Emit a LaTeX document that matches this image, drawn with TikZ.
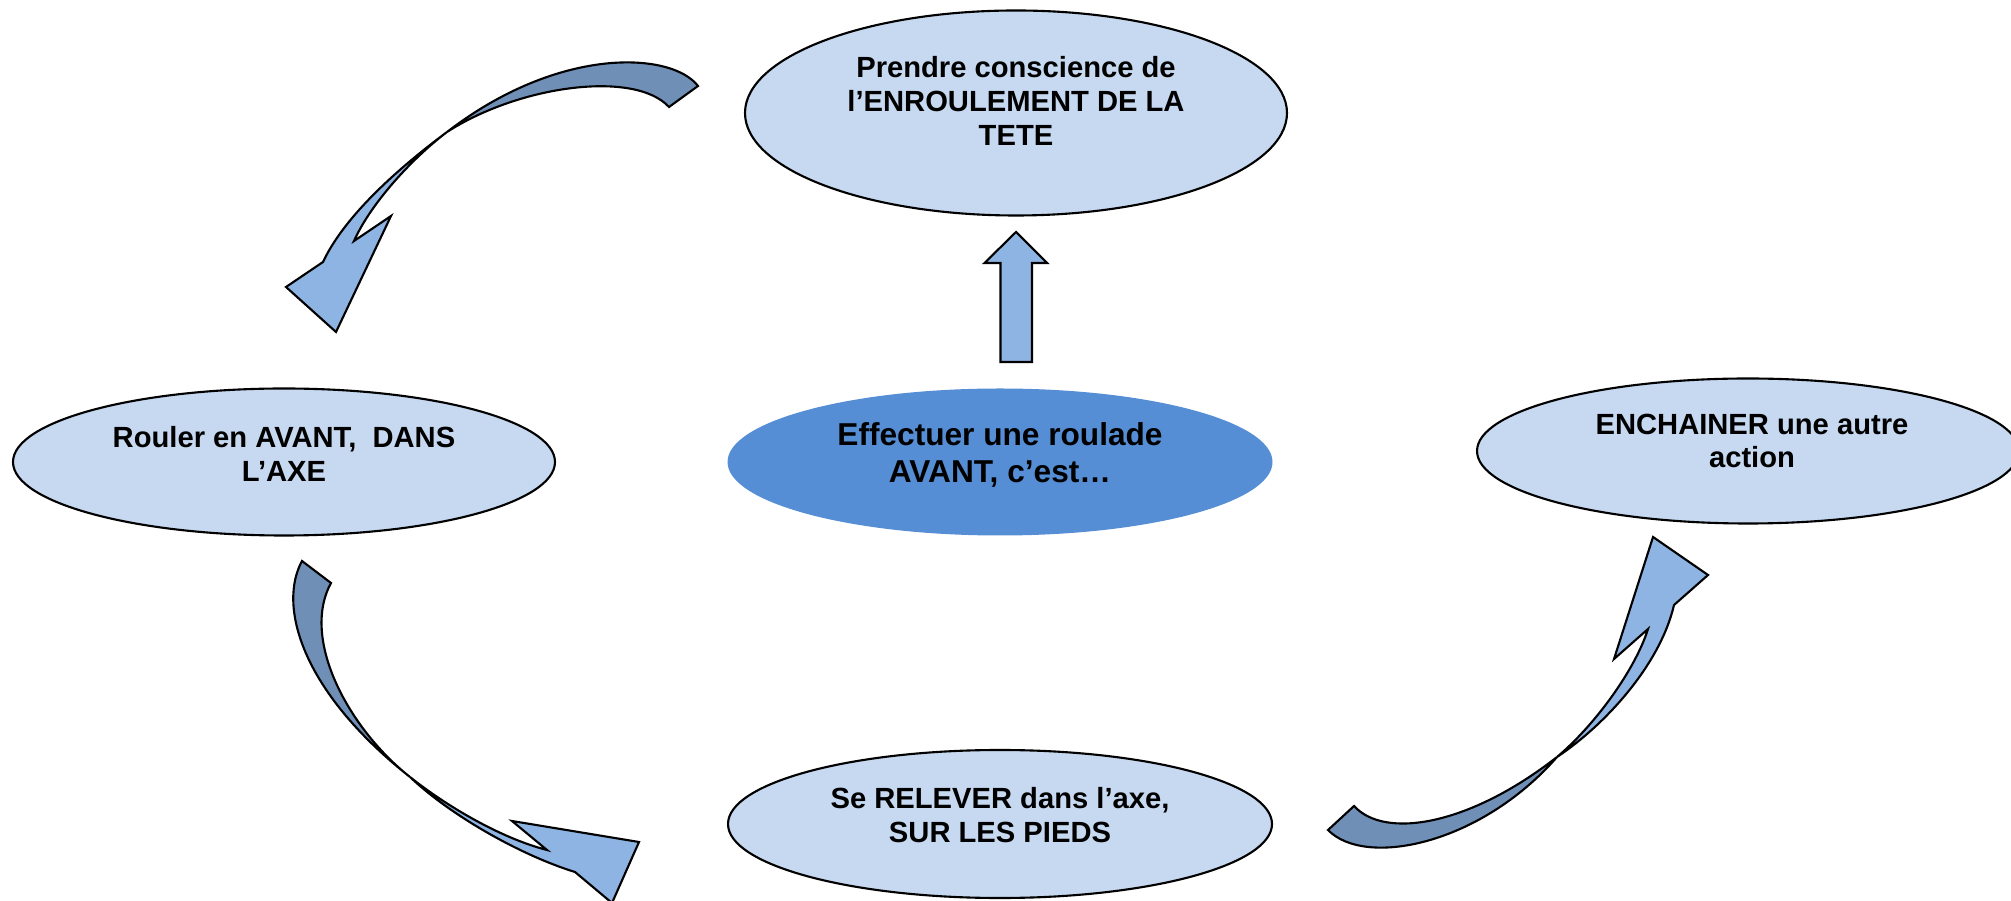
\documentclass[tikz,border=0pt]{standalone}
\usepackage{fontspec}
\setmainfont{Liberation Sans}
\usetikzlibrary{shapes.geometric, positioning, calc}
\definecolor{mylight}{RGB}{198,217,240}
\definecolor{mykey}{RGB}{85,142,213}
\definecolor{myarrow}{RGB}{142,180,227}
\definecolor{myback}{RGB}{111,143,182}
\tikzset{
  bubble/.style={ellipse, draw=black, fill=mylight, line width=0.6pt,
    inner sep=0pt},
  keybubble/.style={ellipse, fill=mykey, inner sep=0pt},
  lbl/.style={align=center, font=\fontsize{8.3}{9.6}\selectfont\bfseries},
  keylbl/.style={align=center, font=\fontsize{9}{10.8}\selectfont\bfseries},
  frontpart/.style={draw=black, fill=myarrow, line width=0.6pt},
  backpart/.style={draw=black, fill=myback, line width=0.6pt}
}

\begin{document}
\begin{tikzpicture}[x=0.1mm, y=-0.1mm]
  \useasboundingbox (0,0) rectangle (2011,901);

  \node[bubble, minimum width=54.2mm, minimum height=20.5mm] (enroul) at (1016,113) {};
  \node[bubble, minimum width=54.2mm, minimum height=14.7mm] (rouler) at (284,462) {};
  \node[keybubble, minimum width=54.5mm, minimum height=14.7mm] (effect) at (1000,462) {};
  \node[bubble, minimum width=54.2mm, minimum height=14.5mm] (enchain) at (1748,451) {};
  \node[bubble, minimum width=54.4mm, minimum height=14.8mm] (relever) at (1000,824) {};

  \node[lbl] (enroul-t) at ([yshift=1.2mm]enroul.center) {Prendre conscience de\\l’ENROULEMENT DE LA\\TETE};
  \node[lbl] (rouler-t) at ([yshift=0.8mm]rouler.center) {Rouler en AVANT,~ DANS\\L’AXE};
  \node[keylbl] (effect-t) at ([yshift=0.7mm]effect.center) {Effectuer une roulade\\AVANT, c’est…};
  \node[lbl] (enchain-t) at ([xshift=0.4mm, yshift=1mm]enchain.center) {ENCHAINER une autre\\action};
  \node[lbl] (relever-t) at ([yshift=0.9mm]relever.center) {Se RELEVER dans l’axe,\\SUR LES PIEDS};

  % straight arrow
  \coordinate (up-foot) at (1016,362);
  \coordinate (up-tip) at (1016,232);
  \draw[frontpart] ([xshift=-1.55mm]up-foot) -- ++(0,-99) -- ++(-16,0) -- (up-tip)
    -- ++(31,31) -- ++(-15,0) -- ++(0,99) -- cycle;

  % curved arrow, top left
  \coordinate (a1-t1) at (698,86);
  \coordinate (a1-t2) at (669,107);
  \coordinate (a1-x) at (447,132);
  \coordinate (a1-h1) at (323,262);
  \coordinate (a1-h2) at (354,241);
  \draw[backpart] (a1-t1) .. controls (672,52) and (560,45) .. (a1-x)
    .. controls (520,85) and (635,70) .. (a1-t2) -- cycle;
  \draw[frontpart] (a1-x) .. controls (400,167) and (345,215) .. (a1-h1)
    -- (286,287) -- (336,332) -- (391,216) -- (a1-h2)
    .. controls (370,205) and (410,160) .. (a1-x) -- cycle;

  % curved arrow, bottom left
  \coordinate (a2-t1) at (302,561);
  \coordinate (a2-t2) at (331,583);
  \coordinate (a2-x) at (410,777);
  \coordinate (a2-h1) at (575,872);
  \coordinate (a2-h2) at (547,850);
  \draw[backpart] (a2-t1) .. controls (278,605) and (300,690) .. (a2-x)
    .. controls (350,730) and (300,640) .. (a2-t2) -- cycle;
  \draw[frontpart] (a2-x) .. controls (450,815) and (520,855) .. (a2-h1)
    -- (612,903) -- (639,842) -- (512,821) -- (a2-h2)
    .. controls (500,838) and (445,805) .. (a2-x) -- cycle;

  % curved arrow, bottom right
  \coordinate (a3-t1) at (1354,806);
  \coordinate (a3-t2) at (1328,830);
  \coordinate (a3-x) at (1557,757);
  \coordinate (a3-h1) at (1674,605);
  \coordinate (a3-h2) at (1648,629);
  \draw[backpart] (a3-t1) .. controls (1385,840) and (1470,825) .. (a3-x)
    .. controls (1480,845) and (1365,868) .. (a3-t2) -- cycle;
  \draw[frontpart] (a3-x) .. controls (1605,725) and (1660,665) .. (a3-h1)
    -- (1708,575) -- (1653,537) -- (1614,659) -- (a3-h2)
    .. controls (1635,670) and (1595,725) .. (a3-x) -- cycle;
\end{tikzpicture}
\end{document}
